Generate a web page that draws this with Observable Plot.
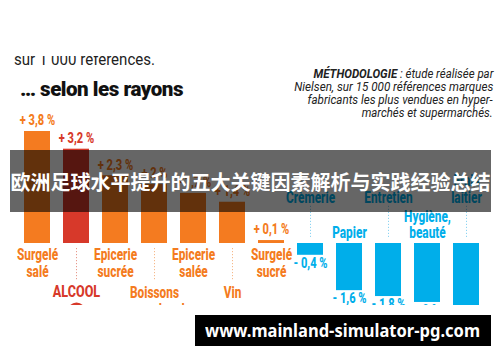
<!DOCTYPE html>
<html><head><meta charset="utf-8">
<script src="https://cdn.jsdelivr.net/npm/d3@7"></script>
<script src="https://cdn.jsdelivr.net/npm/@observablehq/plot@0.6"></script>
<style>
html,body{margin:0;padding:0;background:#fff;}
#wrap{position:relative;width:500px;height:362px;overflow:hidden;font-family:Roboto,"Noto Sans",sans-serif;}
#chart{position:absolute;left:0;top:0;}
.fit{position:absolute;white-space:nowrap;}
.l{transform-origin:left center;}
.r{transform-origin:right center;right:7px;font-style:italic;font-size:13px;line-height:13px;color:#222;}
#banner{position:absolute;left:10px;top:150px;width:481px;height:62px;background:rgba(0,0,0,0.6);color:#fff;
 font-family:"Noto Sans CJK SC",sans-serif;font-weight:700;font-size:20px;line-height:64px;text-align:center;white-space:nowrap;}
#url{position:absolute;left:195px;top:315px;width:296px;height:31px;background:#000;}
</style></head><body>
<div id="wrap">
  <div id="chart"></div>
  <div style="position:absolute;left:14px;top:56px;width:220px;height:12px;overflow:hidden;">
    <div class="fit l" data-w="141" style="left:0;top:-4.5px;font-size:16px;line-height:16px;color:#222;">sur 1 000 références.</div>
  </div>
  <div class="fit l" data-w="163" style="left:20px;top:79px;font-size:21px;line-height:21px;font-weight:900;color:#111;letter-spacing:-0.5px;">… selon les rayons</div>
  <div class="fit r" data-w="180" style="top:66.5px;"><b>MÉTHODOLOGIE</b> : étude réalisée par</div>
  <div class="fit r" data-w="199" style="top:79.5px;">Nielsen, sur 15 000 références marques</div>
  <div class="fit r" data-w="185" style="top:92.5px;">fabricants les plus vendues en hyper-</div>
  <div class="fit r" data-w="131" style="top:105.5px;">marchés et supermarchés.</div>
  <div id="banner">欧洲足球水平提升的五大关键因素解析与实践经验总结</div>
  <div id="url"><div class="fit l" data-w="275" style="left:10px;top:0;font-family:'Noto Sans',sans-serif;font-weight:700;font-size:17px;line-height:31px;color:#fff;">www.mainland-simulator-pg.com</div></div>
</div>
<script>
const categories = ["Surgelé salé","ALCOOL","Epicerie sucrée","Boissons sans alcool","Epicerie salée","Vin","Surgelé sucré","Crèmerie","Papier","Entretien","Hygiène, beauté","Frais laitier"];
const values = [3.8, 3.2, 2.3, 2.0, 1.7, 1.4, 0.1, -0.4, -1.6, -1.8, -2.0, -2.5];
const valueLabels = ["+ 3,8 %","+ 3,2 %","+ 2,3 %","+ 2 %","+ 1,7 %","+ 1,4 %","+ 0,1 %","- 0,4 %","- 1,6 %","- 1,8 %","- 2 %","- 2,5 %"];
const categoryLabels = ["Surgelé\nsalé","ALCOOL","Epicerie\nsucrée","Boissons\nsans alcool","Epicerie\nsalée","Vin","Surgelé\nsucré","Crèmerie","Papier","Entretien","Hygiène,\nbeauté","Frais\nlaitier"];

const ORANGE = "#f47b20", RED = "#d7392a", BLUE = "#00aeea";
const data = categories.map((c, i) => ({cat: c, v: values[i], vl: valueLabels[i], cl: categoryLabels[i], far: i % 2 === 1}));
const col = d => d.cat === "ALCOOL" ? RED : d.v > 0 ? ORANGE : BLUE;
const leader = d => d.cat === "ALCOOL" ? "#e79a8c" : d.v > 0 ? "#f6b98a" : "#8dd4f2";

const H = 305, BASE = 243, TOPPX = 131;
const K = (BASE - TOPPX) / d3.max(values);   // px per percentage point
const px = p => -p / K;                        // pixel offset below baseline -> data units

const pos = data.filter(d => d.v > 0), neg = data.filter(d => d.v < 0);
const font = {fontFamily: "Roboto", fontWeight: 800};

const plot = Plot.plot({
  width: 500, height: H,
  x: {type: "band", domain: categories, range: [6.3, 496.8], padding: 0.345, axis: null},
  y: {domain: [px(H - BASE), d3.max(values)], range: [H, TOPPX], axis: null},
  style: {fontFamily: "Roboto", background: "white"},
  marks: [
    Plot.barY(data, {x: "cat", y: "v", fill: col}),
    Plot.ruleX(data.filter(d => d.far), {x: "cat", y1: d => d.v > 0 ? px(5) : px(-6), y2: d => d.v > 0 ? px(37) : px(-38),
      stroke: leader, strokeWidth: 1, strokeDasharray: "1.2,1.8"}),
    Plot.dot(data.filter(d => d.cat === "ALCOOL"), {x: "cat", y: () => px(H - BASE + 6), r: 9, fill: RED}),
    // value labels
    Plot.text(pos, {x: "cat", y: "v", text: "vl", dy: -11, fill: col, fontSize: 15, ...font}),
    Plot.text(neg, {x: "cat", y: "v", text: "vl", dy: 8, fill: col, fontSize: 15, ...font}),
    // category labels under the positive bars
    Plot.text(pos.filter(d => !d.far), {x: "cat", y: () => 0, text: "cl", lineAnchor: "top", dy: 5, lineHeight: 1.05, fill: col, fontSize: 16, ...font}),
    Plot.text(pos.filter(d => d.far && d.cat !== "ALCOOL"), {x: "cat", y: () => 0, text: "cl", lineAnchor: "top", dy: 43, lineHeight: 1.05, fill: col, fontSize: 16, ...font}),
    Plot.text(pos.filter(d => d.cat === "ALCOOL"), {x: "cat", y: () => 0, text: "cl", lineAnchor: "top", dy: 41, fill: col, fontSize: 17, ...font}),
    // category labels above the negative bars
    Plot.text(neg.filter(d => !d.far), {x: "cat", y: () => 0, text: "cl", lineAnchor: "bottom", dy: -6, lineHeight: 1.0, fill: col, fontSize: 16, ...font}),
    Plot.text(neg.filter(d => d.far), {x: "cat", y: () => 0, text: "cl", lineAnchor: "bottom", dy: -41, lineHeight: 1.05, fill: col, fontSize: 16, ...font})
  ]
});
document.getElementById("chart").appendChild(plot);

// condensed look: squeeze each label horizontally around its own centre
plot.querySelectorAll("text").forEach(t => {
  const b = t.getBBox();
  const cx = b.x + b.width / 2;
  const tr = t.getAttribute("transform") || "";
  t.setAttribute("transform", `${tr} translate(${cx},0) scale(0.74,1) translate(${-cx},0)`);
});

function fit() {
  document.querySelectorAll(".fit").forEach(el => {
    el.style.transform = "none";
    const w = el.getBoundingClientRect().width;
    el.style.transform = `scaleX(${(+el.dataset.w) / w})`;
  });
}
fit();
if (document.fonts) document.fonts.ready.then(fit);
</script>
</body></html>
